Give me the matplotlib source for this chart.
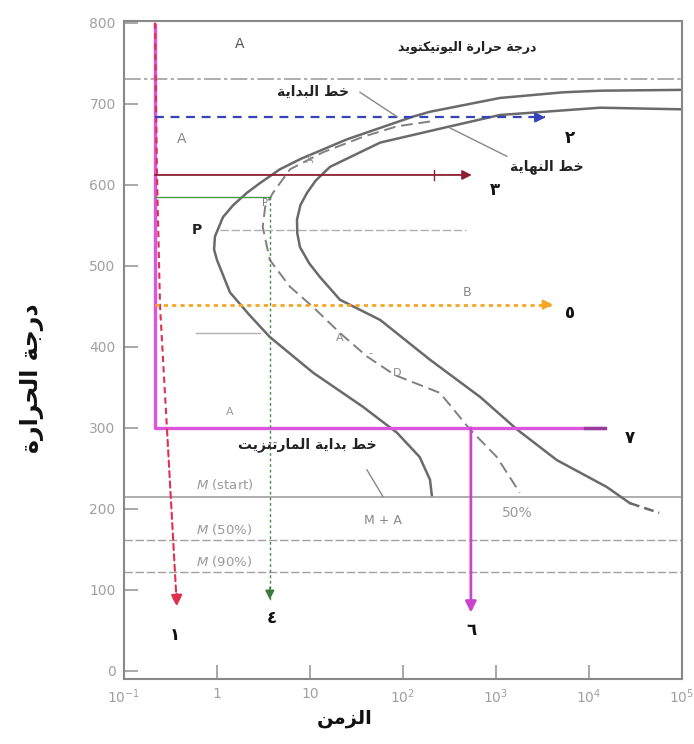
import matplotlib
matplotlib.use("Agg")
import matplotlib.pyplot as plt
import numpy as np

# ---------------- Arabic shaping helper (presentation forms, visual order) ----
FORMS = {
    'ا': ('\uFE8D', '\uFE8E', None, None),
    'ب': ('\uFE8F', '\uFE90', '\uFE91', '\uFE92'),
    'ة': ('\uFE93', '\uFE94', None, None),
    'ت': ('\uFE95', '\uFE96', '\uFE97', '\uFE98'),
    'ج': ('\uFE9D', '\uFE9E', '\uFE9F', '\uFEA0'),
    'ح': ('\uFEA1', '\uFEA2', '\uFEA3', '\uFEA4'),
    'خ': ('\uFEA5', '\uFEA6', '\uFEA7', '\uFEA8'),
    'د': ('\uFEA9', '\uFEAA', None, None),
    'ر': ('\uFEAD', '\uFEAE', None, None),
    'ز': ('\uFEAF', '\uFEB0', None, None),
    'ط': ('\uFEC1', '\uFEC2', '\uFEC3', '\uFEC4'),
    'ك': ('\uFED9', '\uFEDA', '\uFEDB', '\uFEDC'),
    'ل': ('\uFEDD', '\uFEDE', '\uFEDF', '\uFEE0'),
    'م': ('\uFEE1', '\uFEE2', '\uFEE3', '\uFEE4'),
    'ن': ('\uFEE5', '\uFEE6', '\uFEE7', '\uFEE8'),
    'ه': ('\uFEE9', '\uFEEA', '\uFEEB', '\uFEEC'),
    'و': ('\uFEED', '\uFEEE', None, None),
    'ي': ('\uFEF1', '\uFEF2', '\uFEF3', '\uFEF4'),
}


def ar(text):
    chars = list(text)
    out = []
    for i, c in enumerate(chars):
        if c not in FORMS:
            out.append(c)
            continue
        prev = chars[i - 1] if i > 0 else None
        nxt = chars[i + 1] if i + 1 < len(chars) else None
        jp = prev in FORMS and FORMS[prev][2] is not None
        jn = nxt in FORMS and FORMS[c][2] is not None
        iso, fin, ini, med = FORMS[c]
        if jp and jn:
            out.append(med)
        elif jp:
            out.append(fin)
        elif jn:
            out.append(ini)
        else:
            out.append(iso)
    return ''.join(reversed(out))


# ---------------- data ----------------
x_ticks = [0.1, 1, 10, 100, 1000, 10000, 100000]
x_tick_labels = [r'$10^{-1}$', '1', '10', r'$10^{2}$', r'$10^{3}$', r'$10^{4}$', r'$10^{5}$']
y_ticks = [0, 100, 200, 300, 400, 500, 600, 700, 800]

# transformation start curve (time s, temperature C)
start_t = [100000, 13200, 5250, 1100, 195, 128, 25, 8.0, 4.75, 2.9, 2.1, 1.5, 1.16, 0.95, 0.93, 1.0,
           1.38, 2.2, 3.7, 10.8, 37, 86, 151, 195, 204]
start_T = [717, 716, 714, 707, 690, 684, 656, 632, 619, 602, 590, 575, 560, 536, 520, 507,
           467, 440, 412, 368, 326, 294, 264, 236, 217]

# transformation end curve
end_t = [100000, 13200, 1100, 270, 57, 16.4, 11.5, 9.3, 7.9, 7.25, 7.3, 7.8, 9.8, 12.8, 21, 57,
         195, 676, 1680, 4530, 15500, 27500]
end_T = [693, 695, 686, 670, 652, 622, 605, 590, 575, 557, 540, 523, 503, 486, 458, 433,
         384, 338, 298, 260, 227, 207]
end_tail_t = [27500, 57000]
end_tail_T = [207, 195]

# 50 % curve (dashed)
half_t = [195, 86, 37, 13.8, 6.1, 4.0, 3.3, 3.1, 3.7, 6.1, 10.8, 21, 41, 82,
          250, 525, 1020, 1800]
half_T = [678, 672, 659, 640, 619, 590, 573, 548, 507, 474, 449, 417, 388, 365,
          343, 298, 264, 220]

# horizontal reference temperatures
T_eutectoid = 730
T_ms, T_m50, T_m90 = 215, 162, 122
T_p_line, T_short = 544, 417
p_line_t = [1.07, 470]
short_line_t = [0.6, 2.9]

# cooling paths
path7_t = [0.215, 0.215, 15000]
path7_T = [800, 300, 300]
path6_t = [537, 537]
path6_T = [300, 72]
path1_t = [0.215, 0.226, 0.244, 0.29, 0.37]
path1_T = [800, 615, 450, 298, 80]
path2_t = [0.215, 3400]
path2_T = [683, 683]
path3_t = [0.215, 550]
path3_T = [612, 612]
path4_t = [0.215, 3.7, 3.7]
path4_T = [585, 585, 88]
path5_t = [0.215, 4100]
path5_T = [452, 452]

num_labels = ['١', '٢', '٣', '٤', '٥', '٦', '٧']
num_pos_t = [0.353, 6300, 980, 3.9, 6300, 550, 27500]
num_pos_T = [44, 658, 594, 65, 442, 50, 288]

title_eut = 'درجة حرارة اليوتيكتويد'
lbl_start = 'خط البداية'
lbl_end = 'خط النهاية'
lbl_ms = 'خط بداية المارتنزيت'
ylab = 'درجة الحرارة'
xlab = 'الزمن'

# ---------------- figure ----------------
plt.rcParams['font.family'] = ['DejaVu Sans']
fig = plt.figure(figsize=(6.94, 7.44), dpi=100)
ax = fig.add_axes([124 / 694, 1 - 679 / 744, (682 - 124) / 694, (679 - 21) / 744])
ax.set_xscale('log')
ax.set_xlim(0.1, 100000)
ax.set_ylim(-10, 802)

gray_curve = '#6a6a6a'
gl = '#a0a0a0'

# reference lines
ax.axhline(T_eutectoid, color=gl, lw=1.2, ls=(0, (10, 2, 2, 2)))
ax.axhline(T_ms, color=gl, lw=1.2)
ax.axhline(T_m50, color=gl, lw=1.0, ls=(0, (6, 2)))
ax.axhline(T_m90, color=gl, lw=1.0, ls=(0, (6, 2)))
ax.plot(p_line_t, [T_p_line, T_p_line], color='#b0b0b0', lw=1.0, ls=(0, (6, 2)))
ax.plot(short_line_t, [T_short, T_short], color='#b0b0b0', lw=1.0)

# curves
ax.plot(start_t, start_T, color=gray_curve, lw=1.8)
ax.plot(end_t, end_T, color=gray_curve, lw=1.8)
ax.plot(end_tail_t, end_tail_T, color=gray_curve, lw=1.8, ls=(0, (4, 2)))
ax.plot(half_t, half_T, color='#808080', lw=1.4, ls=(0, (6, 3)))

# cooling paths
mag = '#dd55dd'
ax.plot(path7_t, path7_T, color=mag, lw=2.4, solid_capstyle='butt')
ax.plot(path7_t[-1:] + [path7_t[-1] * 0.6], [300, 300], color='#9a3a9a', lw=2.4)
ax.annotate('', xy=(path6_t[1], path6_T[1]), xytext=(path6_t[0], path6_T[0]),
            arrowprops=dict(arrowstyle='-|>', color='#cc44cc', lw=2.0,
                            mutation_scale=16, shrinkA=0, shrinkB=0))

ax.plot(path1_t[:-1], path1_T[:-1], color='#e03050', lw=1.5, ls=(0, (3, 2)))
ax.annotate('', xy=(path1_t[-1], path1_T[-1]), xytext=(path1_t[-2], path1_T[-2]),
            arrowprops=dict(arrowstyle='-|>', color='#e03050', lw=1.5,
                            ls=(0, (3, 2)), mutation_scale=16, shrinkA=0, shrinkB=0))
ax.annotate('', xy=(path1_t[-1], path1_T[-1]), xytext=(path1_t[-1] * 0.995, path1_T[-1] + 15),
            arrowprops=dict(arrowstyle='-|>', color='#e03050', lw=1.5,
                            mutation_scale=16, shrinkA=0, shrinkB=0))

ax.plot(path2_t, path2_T, color='#3344bb', lw=1.6, ls=(0, (4, 3)))
ax.annotate('', xy=(path2_t[1], path2_T[1]), xytext=(path2_t[1] * 0.8, path2_T[1]),
            arrowprops=dict(arrowstyle='-|>', color='#3344bb', lw=1.6,
                            mutation_scale=14, shrinkA=0, shrinkB=0))

ax.annotate('', xy=(path3_t[1], path3_T[1]), xytext=(path3_t[0], path3_T[0]),
            arrowprops=dict(arrowstyle='-|>', color='#8b2030', lw=1.3,
                            mutation_scale=14, shrinkA=0, shrinkB=0))
ax.plot([218, 218], [606, 618], color='#8b2030', lw=1.0)

ax.plot(path4_t[:2], path4_T[:2], color='#4a9a4a', lw=1.0)
ax.plot(path4_t[1:], path4_T[1:], color='#4a8a4a', lw=1.0, ls=(0, (2, 2)))
ax.annotate('', xy=(path4_t[2], path4_T[2]), xytext=(path4_t[2], path4_T[2] + 15),
            arrowprops=dict(arrowstyle='-|>', color='#3a7a3a', lw=1.0,
                            mutation_scale=14, shrinkA=0, shrinkB=0))

ax.plot(path5_t, path5_T, color='#f5a623', lw=2.0, ls=(0, (1.5, 1.5)))
ax.annotate('', xy=(path5_t[1], path5_T[1]), xytext=(path5_t[1] * 0.8, path5_T[1]),
            arrowprops=dict(arrowstyle='-|>', color='#f5a623', lw=1.6,
                            mutation_scale=14, shrinkA=0, shrinkB=0))

# leader lines for labels
ax.plot([34.5, 86], [714, 684], color='#888888', lw=1.0)
ax.plot([320, 1310], [670, 635], color='#888888', lw=1.0)
ax.plot([41, 61], [248, 215], color='#888888', lw=1.0)

# Arabic labels
ax.text(490, 769, ar(title_eut), ha='center', va='center', fontsize=9, fontweight='bold', color='#222222')
ax.text(10.8, 714, ar(lbl_start), ha='center', va='center', fontsize=10, fontweight='bold', color='#222222')
ax.text(3560, 622, ar(lbl_end), ha='center', va='center', fontsize=10, fontweight='bold', color='#222222')
ax.text(9.3, 279, ar(lbl_ms), ha='center', va='center', fontsize=10, fontweight='bold', color='#222222')

for lab, tt, TT in zip(num_labels, num_pos_t, num_pos_T):
    ax.text(tt, TT, lab, ha='center', va='center', fontsize=12, fontweight='bold', color='#111111')

# latin phase labels
ax.text(1.77, 773, 'A', ha='center', va='center', fontsize=10, color='#555555')
ax.text(0.42, 656, 'A', ha='center', va='center', fontsize=10, color='#888888')
ax.text(10, 631, 'A', ha='center', va='center', fontsize=8, color='#999999')
ax.text(0.61, 544, 'P', ha='center', va='center', fontsize=10, fontweight='bold', color='#222222')
ax.text(3.3, 578, 'P', ha='center', va='center', fontsize=7, color='#777777')
ax.text(21, 411, 'A', ha='center', va='center', fontsize=8, color='#888888')
ax.text(45, 392, '-', ha='center', va='center', fontsize=8, color='#888888')
ax.text(86, 368, 'D', ha='center', va='center', fontsize=8, color='#888888')
ax.text(490, 467, 'B', ha='center', va='center', fontsize=9, color='#888888')
ax.text(1.38, 319, 'A', ha='center', va='center', fontsize=8, color='#999999')
ax.text(61, 186, 'M + A', ha='center', va='center', fontsize=9, color='#888888')
ax.text(1680, 195, '50%', ha='center', va='center', fontsize=10, color='#999999')
ax.text(0.6, 230, r'$\mathit{M}$ (start)', ha='left', va='center', fontsize=9.5, color='#999999')
ax.text(0.6, 174, r'$\mathit{M}$ (50%)', ha='left', va='center', fontsize=9.5, color='#999999')
ax.text(0.6, 135, r'$\mathit{M}$ (90%)', ha='left', va='center', fontsize=9.5, color='#999999')

# axes styling
ax.set_xticks(x_ticks)
ax.set_xticklabels(x_tick_labels)
ax.minorticks_off()
ax.set_yticks(y_ticks)
ax.tick_params(axis='both', direction='in', length=10, width=1.2, colors='#999999',
               labelsize=10, labelcolor='#a0a0a0', pad=6)
for s in ax.spines.values():
    s.set_color('#888888')
    s.set_linewidth(1.5)

fig.text(32 / 694, 1 - 378 / 744, ar(ylab), rotation=90, ha='center', va='center',
         fontsize=17, fontweight='bold', color='#111111')
fig.text(345 / 694, 1 - 718 / 744, ar(xlab), ha='center', va='center',
         fontsize=14, fontweight='bold', color='#111111')

fig.savefig('out.png', dpi=100)
